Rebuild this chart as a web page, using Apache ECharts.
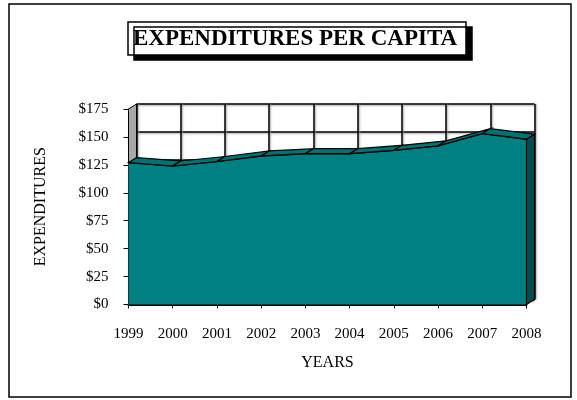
<!DOCTYPE html>
<html>
<head>
<meta charset="utf-8">
<script src="https://cdn.jsdelivr.net/npm/echarts@6/dist/echarts.min.js"></script>
<style>html,body{margin:0;padding:0;background:#fff}#c{width:577px;height:400px}</style>
</head>
<body>
<div id="c"></div>
<script>
const years = ['1999','2000','2001','2002','2003','2004','2005','2006','2007','2008'];
const expenditures = [127, 124, 128, 133, 135, 135, 138, 142, 153, 148];
const yTicks = [0, 25, 50, 75, 100, 125, 150, 175];

const FONT = '"Liberation Serif", "Times New Roman", serif';
const DX = 8, DY = -5;
const n = expenditures.length;

const chart = echarts.init(document.getElementById('c'), null, {renderer: 'canvas'});
chart.setOption({
  animation: false,
  backgroundColor: '#fff',
  title: {
    text: 'EXPENDITURES PER CAPITA',
    left: 128, top: 22,
    padding: [6, 9, 4, 5],
    backgroundColor: '#fff',
    borderColor: '#000', borderWidth: 1.5,
    shadowColor: '#000', shadowBlur: 0, shadowOffsetX: 6, shadowOffsetY: 5,
    textStyle: {fontFamily: FONT, fontWeight: 'bold', fontSize: 23, color: '#000'}
  },
  graphic: [{
    type: 'rect', z: -10, silent: true,
    shape: {x: 9, y: 4, width: 562, height: 393},
    style: {fill: 'none', stroke: '#000', lineWidth: 1.5}
  }],
  grid: [
    {left: 128.5, right: 50.5, top: 109, bottom: 95.5},
    {left: 128.5 + DX, right: 50.5 - DX, top: 109 + DY, bottom: 95.5 - DY}
  ],
  xAxis: [{
    gridIndex: 0, type: 'category', data: years, boundaryGap: false,
    name: 'YEARS', nameLocation: 'middle', nameGap: 50,
    nameTextStyle: {fontFamily: FONT, fontSize: 16, color: '#000'},
    axisLine: {lineStyle: {color: '#000', width: 2}},
    axisTick: {show: true, length: 4, lineStyle: {color: '#000'}},
    axisLabel: {fontFamily: FONT, fontSize: 15, color: '#000', margin: 22},
    splitLine: {show: false}
  }, {
    gridIndex: 1, type: 'category', data: years, boundaryGap: false,
    axisLine: {show: false}, axisTick: {show: false}, axisLabel: {show: false},
    splitLine: {show: true, lineStyle: {color: '#000', width: 1.5, shadowColor: '#999', shadowBlur: 2, shadowOffsetX: 1}}
  }],
  yAxis: [{
    gridIndex: 0, type: 'value', min: 0, max: 175, interval: 25,
    name: 'EXPENDITURES', nameLocation: 'middle', nameGap: 80, nameRotate: 90,
    nameTextStyle: {fontFamily: FONT, fontSize: 16, color: '#000'},
    axisLine: {show: true, lineStyle: {color: '#000', width: 1.5}},
    axisTick: {show: true, length: 5, lineStyle: {color: '#000'}},
    axisLabel: {fontFamily: FONT, fontSize: 15, color: '#000', margin: 20,
      formatter: v => '$' + v},
    splitLine: {show: false}
  }, {
    gridIndex: 1, type: 'value', min: 0, max: 175, interval: 25,
    axisLine: {show: false}, axisTick: {show: false}, axisLabel: {show: false},
    splitLine: {show: true, lineStyle: {color: '#000', width: 1.5, shadowColor: '#999', shadowBlur: 2, shadowOffsetY: 1}}
  }],
  series: [{
    // left side wall
    type: 'custom', xAxisIndex: 0, yAxisIndex: 0, z: 1, silent: true,
    data: [[0, yTicks[yTicks.length - 1]]],
    renderItem: function (params, api) {
      const top = api.coord([0, api.value(1)]);
      const bot = api.coord([0, 0]);
      return {type: 'polygon', shape: {points: [top, [top[0] + DX, top[1] + DY], [bot[0] + DX, bot[1] + DY], bot]},
        style: {fill: '#a8a8a8', stroke: '#000', lineWidth: 1}};
    }
  }, {
    type: 'line', xAxisIndex: 0, yAxisIndex: 0, z: 2, silent: true,
    data: expenditures, symbol: 'none',
    lineStyle: {color: '#000', width: 1.5},
    areaStyle: {color: '#008080', opacity: 1}
  }, {
    // top and right faces
    type: 'custom', xAxisIndex: 0, yAxisIndex: 0, z: 3, silent: true,
    data: expenditures.map((v, i) => [i, v]),
    renderItem: function (params, api) {
      const i = params.dataIndex;
      const p1 = api.coord([i, expenditures[i]]);
      if (i < n - 1) {
        const p2 = api.coord([i + 1, expenditures[i + 1]]);
        return {type: 'polygon', shape: {points: [p1, p2, [p2[0] + DX, p2[1] + DY], [p1[0] + DX, p1[1] + DY]]},
          style: {fill: '#007272', stroke: '#000', lineWidth: 1.2}};
      }
      const b = api.coord([i, 0]);
      return {type: 'polygon', shape: {points: [p1, [p1[0] + DX, p1[1] + DY], [b[0] + DX, b[1] + DY], b]},
        style: {fill: '#004d4d', stroke: '#000', lineWidth: 1.2}};
    }
  }]
});
</script>
</body>
</html>
